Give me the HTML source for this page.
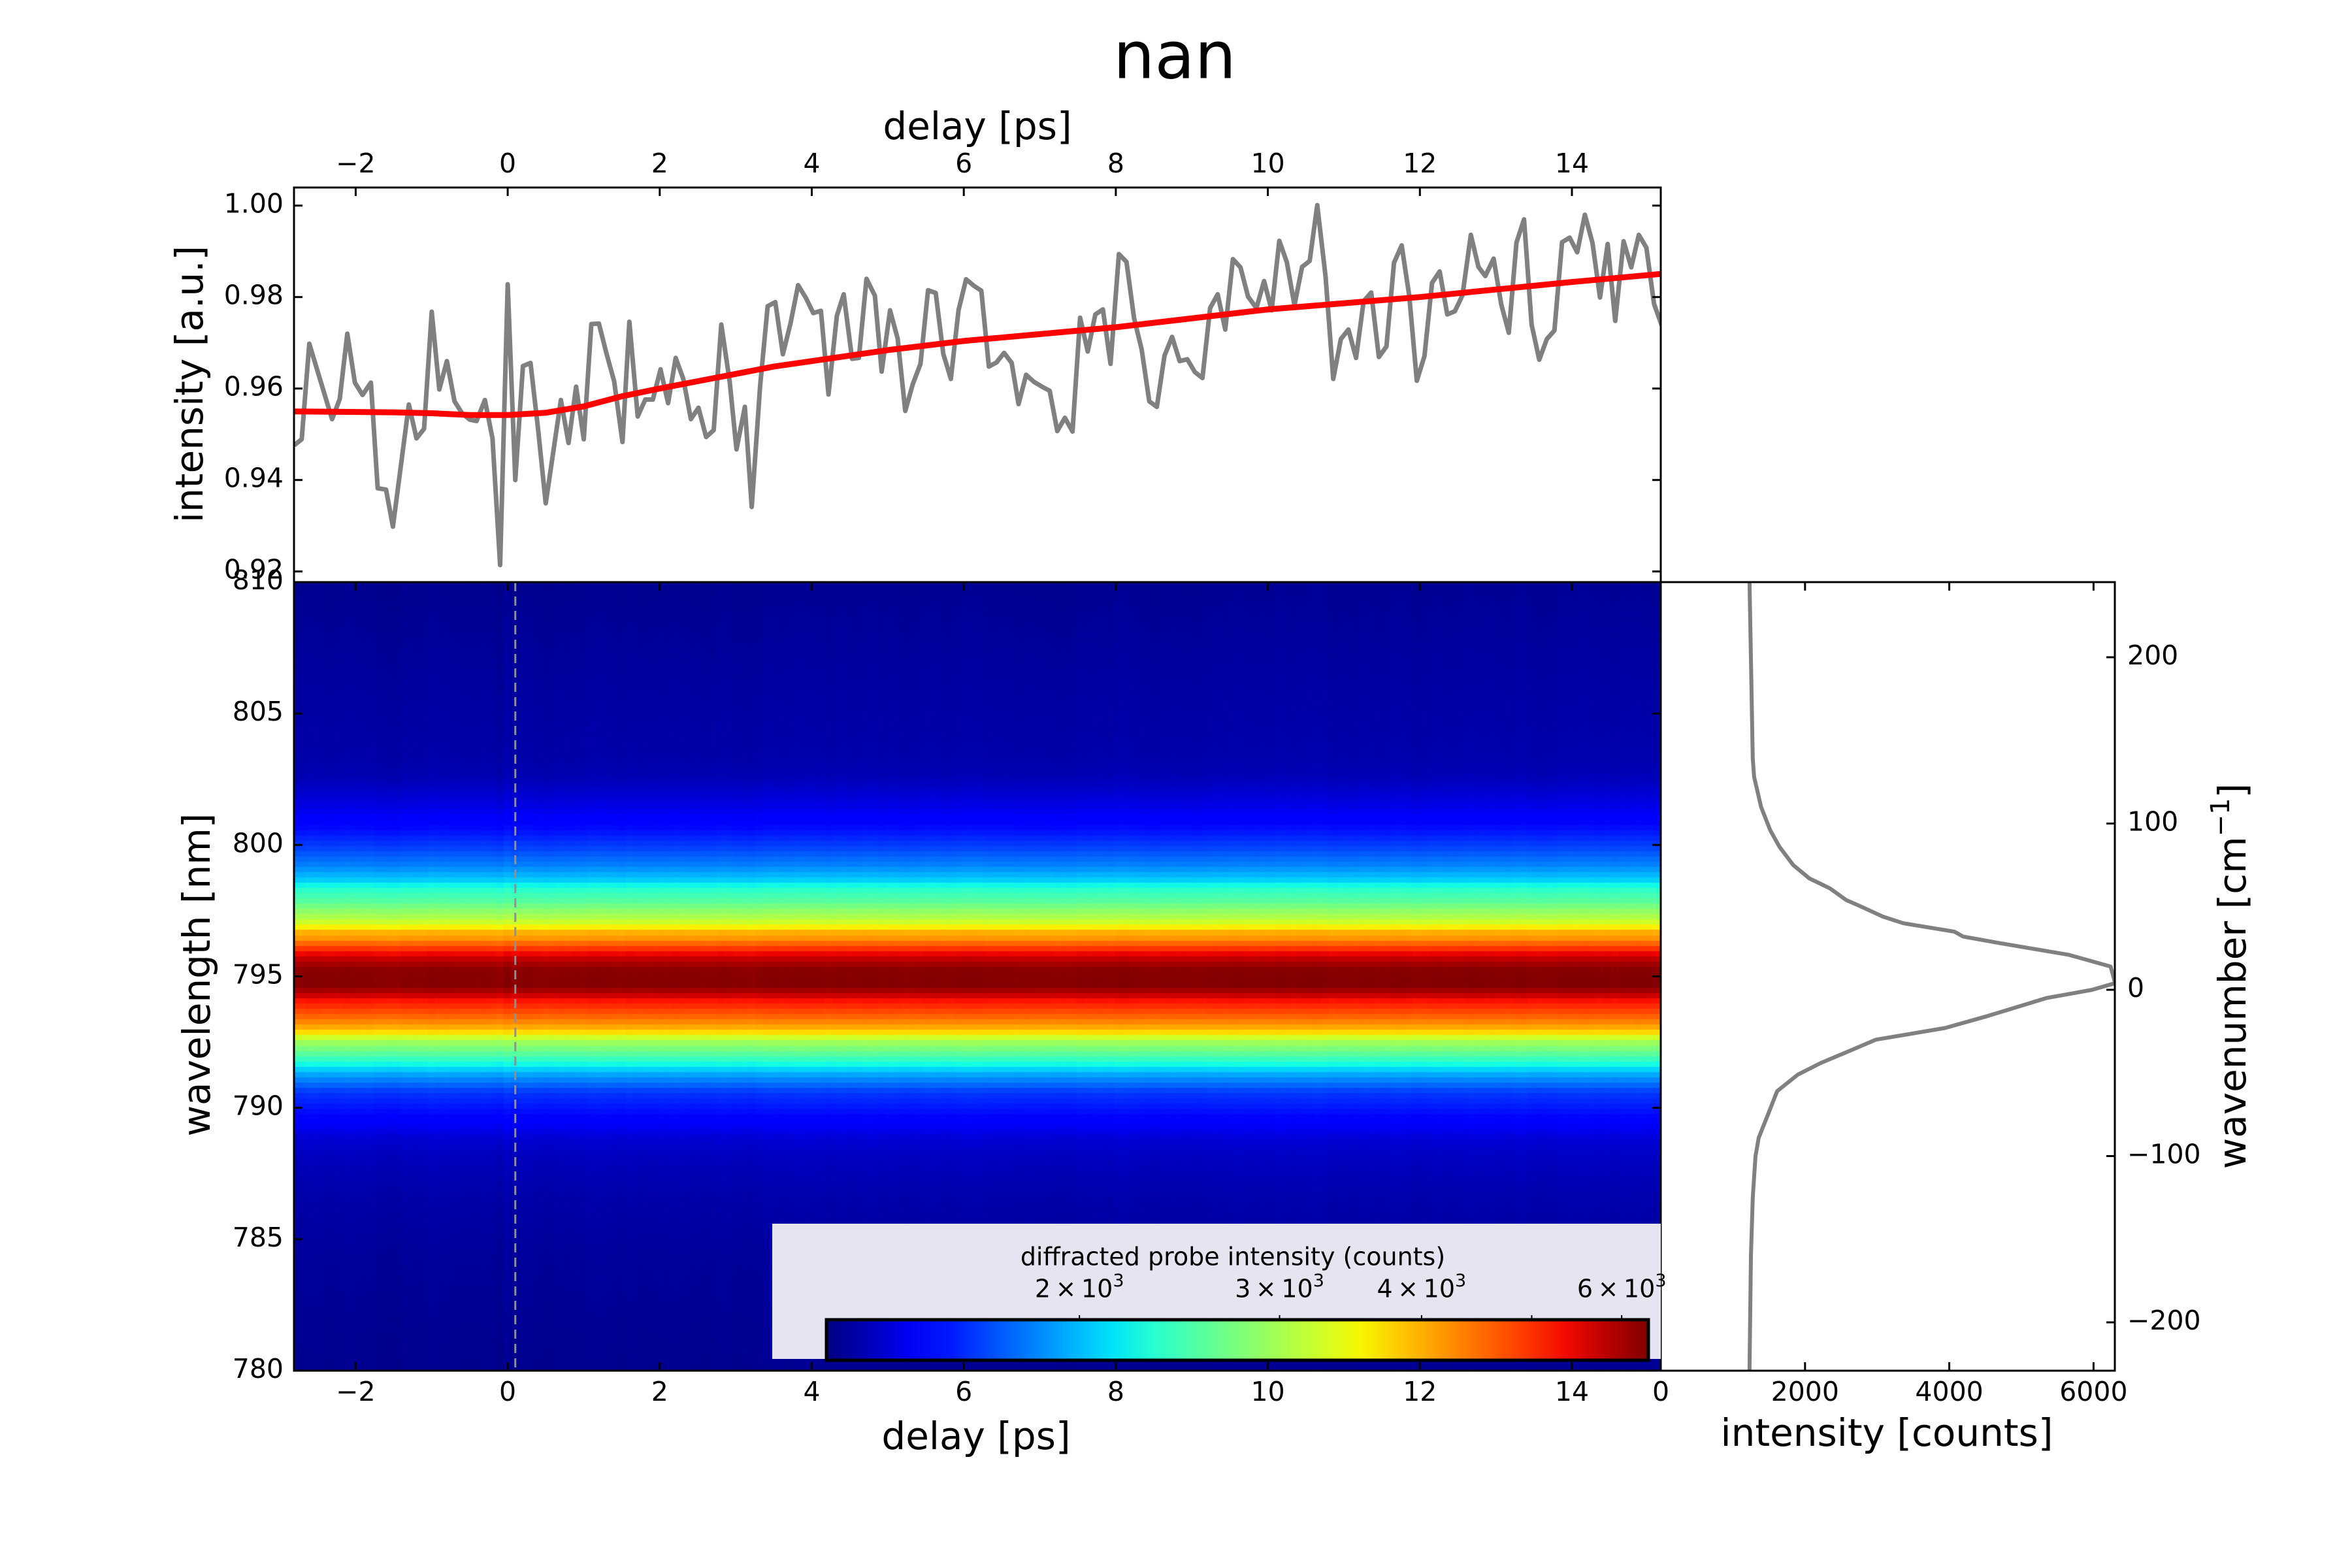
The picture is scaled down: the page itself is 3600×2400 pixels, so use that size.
<!DOCTYPE html>
<html><head><meta charset="utf-8">
<style>
html,body{margin:0;padding:0;background:#fff;}
#wrap{position:relative;width:3600px;height:2400px;overflow:hidden;}
#heat{position:absolute;left:450px;top:891px;}
svg{position:absolute;left:0;top:0;}
text{font-family:"DejaVu Sans","Liberation Sans",sans-serif;fill:#000;}
</style></head>
<body>
<div id="wrap">
<canvas id="heat" width="2092" height="1207"></canvas>
<svg id="svg" width="3600" height="2400" xmlns="http://www.w3.org/2000/svg">
<defs><linearGradient id="jetGrad" x1="0" x2="1" y1="0" y2="0"></linearGradient></defs>
<text x="1798" y="92" font-size="100" text-anchor="middle" dominant-baseline="middle">nan</text>
<text x="1496" y="197" font-size="58" text-anchor="middle" dominant-baseline="middle">delay [ps]</text>
<text transform="translate(294,588) rotate(-90)" font-size="58" text-anchor="middle" dominant-baseline="middle">intensity [a.u.]</text>
<text transform="translate(305,1492) rotate(-90)" font-size="58" text-anchor="middle" dominant-baseline="middle">wavelength [nm]</text>
<text x="1494" y="2202" font-size="58" text-anchor="middle" dominant-baseline="middle">delay [ps]</text>
<text x="2888" y="2197" font-size="58" text-anchor="middle" dominant-baseline="middle">intensity [counts]</text>
<text transform="translate(3421,1494) rotate(-90)" font-size="58" text-anchor="middle" dominant-baseline="middle">wavenumber [cm<tspan dy="-20" font-size="40">−1</tspan><tspan dy="20">]</tspan></text>
<g id="gTop"></g>
<g id="gMain"></g>
<g id="gRight"></g>
<g id="gCbar"></g>
</svg>
</div>
<script>
// ---- data ----
const tData=[-2.81,-2.71,-2.61,-2.31,-2.21,-2.11,-2.01,-1.91,-1.80,-1.71,-1.60,-1.51,-1.30,-1.20,-1.10,-1.00,-0.90,-0.80,-0.70,-0.60,-0.50,-0.41,-0.30,-0.20,-0.10,0.00,0.10,0.20,0.30,0.40,0.50,0.60,0.70,0.80,0.90,1.00,1.10,1.20,1.30,1.40,1.51,1.60,1.71,1.81,1.91,2.01,2.11,2.21,2.31,2.41,2.51,2.61,2.71,2.81,2.92,3.01,3.12,3.21,3.32,3.42,3.52,3.62,3.72,3.82,3.92,4.02,4.12,4.22,4.33,4.42,4.53,4.62,4.72,4.83,4.92,5.03,5.13,5.23,5.33,5.43,5.53,5.63,5.73,5.83,5.93,6.03,6.13,6.23,6.33,6.43,6.53,6.63,6.72,6.82,6.92,7.03,7.13,7.23,7.33,7.43,7.53,7.63,7.73,7.83,7.93,8.04,8.14,8.24,8.34,8.44,8.54,8.64,8.74,8.84,8.94,9.04,9.14,9.24,9.34,9.44,9.54,9.64,9.74,9.85,9.95,10.05,10.15,10.25,10.35,10.45,10.55,10.65,10.76,10.86,10.96,11.06,11.16,11.26,11.36,11.46,11.56,11.66,11.76,11.86,11.96,12.06,12.16,12.26,12.36,12.46,12.56,12.67,12.77,12.86,12.97,13.07,13.17,13.27,13.37,13.47,13.57,13.67,13.77,13.87,13.97,14.07,14.17,14.27,14.37,14.47,14.57,14.68,14.78,14.88,14.98,15.08,15.19];
const vData=[0.9476,0.9489,0.9698,0.9533,0.9577,0.9720,0.9613,0.9586,0.9613,0.9382,0.9379,0.9298,0.9565,0.9491,0.9512,0.9768,0.9598,0.9660,0.9572,0.9546,0.9532,0.9529,0.9575,0.9491,0.9214,0.9828,0.9400,0.9649,0.9656,0.9511,0.9349,0.9462,0.9575,0.9481,0.9604,0.9489,0.9741,0.9742,0.9676,0.9616,0.9483,0.9746,0.9539,0.9576,0.9576,0.9642,0.9568,0.9667,0.9621,0.9533,0.9558,0.9494,0.9509,0.9740,0.9616,0.9467,0.9560,0.9341,0.9605,0.9780,0.9789,0.9675,0.9742,0.9826,0.9799,0.9765,0.9770,0.9587,0.9759,0.9806,0.9665,0.9667,0.9840,0.9803,0.9637,0.9771,0.9709,0.9551,0.9610,0.9654,0.9815,0.9809,0.9676,0.9621,0.9771,0.9839,0.9825,0.9814,0.9648,0.9657,0.9678,0.9656,0.9566,0.9630,0.9615,0.9604,0.9595,0.9507,0.9536,0.9506,0.9755,0.9681,0.9762,0.9773,0.9654,0.9894,0.9877,0.9754,0.9685,0.9572,0.9560,0.9672,0.9713,0.9660,0.9664,0.9636,0.9623,0.9776,0.9806,0.9729,0.9883,0.9865,0.9801,0.9776,0.9835,0.9771,0.9923,0.9876,0.9782,0.9866,0.9879,1.0001,0.9844,0.9621,0.9708,0.9729,0.9667,0.9791,0.9810,0.9669,0.9692,0.9875,0.9913,0.9803,0.9617,0.9671,0.9831,0.9856,0.9762,0.9769,0.9804,0.9936,0.9866,0.9846,0.9884,0.9784,0.9722,0.9919,0.9970,0.9740,0.9663,0.9708,0.9727,0.9920,0.9930,0.9898,0.9980,0.9919,0.9799,0.9916,0.9748,0.9922,0.9865,0.9936,0.9908,0.9785,0.9734];
const fitT=[-2.81,-1.5,-1,-0.5,0,0.5,1,1.5,2,2.5,3,3.5,4,5,6,8,10,12,14,15.2];
const fitV=[0.9550,0.9548,0.9546,0.9542,0.9542,0.9547,0.9561,0.9583,0.9600,0.9616,0.9632,0.9648,0.9660,0.9684,0.9704,0.9734,0.9773,0.9800,0.9833,0.9851];
const specWn=[246,139,128,110,96,86,75,67,61,54,51,44,40,35,32,28,21,14,9,4,0,-5,-16,-23,-30,-37,-44,-51,-61,-75,-89,-100,-125,-160,-230];
const specCounts=[1230,1275,1294,1390,1517,1645,1836,2060,2346,2570,2729,3080,3366,4068,4195,4706,5662,6236,6268,6300,5981,5343,4514,3940,2984,2601,2219,1900,1613,1486,1358,1313,1275,1250,1230];
const topXTicks=[-2,0,2,4,6,8,10,12,14];
const topYTicks=[1.00,0.98,0.96,0.94,0.92];
const wlTicks=[810,805,800,795,790,785,780];
const countTicks=[0,2000,4000,6000];
const wnTicks=[200,100,0,-100,-200];
const cbarTicks=[2000,3000,4000,5000,6000];
const cbarLabels=["2","3","4","","6"];
const zeroDelay=0.1;
const cmin=1198, cmax=6333;

// ---- axis functions ----
const xT=t=>777.1+116.35*t;
const yV=v=>314.7+(1-v)*7000;
const yL=l=>891+(810-l)*40.23;
const xC=c=>2542+c*0.1104;
const yW=w=>1515-w*2.545;
const xLog=c=>1265+(Math.log10(c)-Math.log10(cmin))/(Math.log10(cmax)-Math.log10(cmin))*1258;

const NS="http://www.w3.org/2000/svg";
function mk(tag,attrs,parent){const e=document.createElementNS(NS,tag);for(const k in attrs)e.setAttribute(k,attrs[k]);parent.appendChild(e);return e;}
function fmt(n){return (n<0?"−":"")+Math.abs(n);}
function jet(x){
  function seg(pts){for(let i=0;i<pts.length-1;i++){const a=pts[i],b=pts[i+1];if(x<=b[0]){return a[1]+(b[1]-a[1])*(x-a[0])/(b[0]-a[0]);}}return pts[pts.length-1][1];}
  x=Math.max(0,Math.min(1,x));
  const r=seg([[0,0],[0.35,0],[0.66,1],[0.89,1],[1,0.5]]);
  const g=seg([[0,0],[0.125,0],[0.375,1],[0.64,1],[0.91,0],[1,0]]);
  const b=seg([[0,0.5],[0.11,1],[0.34,1],[0.65,0],[1,0]]);
  return [Math.round(r*255),Math.round(g*255),Math.round(b*255)];
}
function spec(w){
  if(w>=specWn[0])return specCounts[0];
  for(let i=0;i<specWn.length-1;i++){if(w<=specWn[i]&&w>=specWn[i+1]){const f=(specWn[i]-w)/(specWn[i]-specWn[i+1]);return specCounts[i]+(specCounts[i+1]-specCounts[i])*f;}}
  return specCounts[specCounts.length-1];
}

// ---- heatmap ----
(function(){
  const cv=document.getElementById('heat');const ctx=cv.getContext('2d');
  const vmean=vData.reduce((a,b)=>a+b,0)/vData.length;
  for(let i=0;i<tData.length;i++){
    const x0=i===0?450:(xT(tData[i-1])+xT(tData[i]))/2;
    const x1=i===tData.length-1?2542:(xT(tData[i])+xT(tData[i+1]))/2;
    const fac=1+(vData[i]/vmean-1)*0.25;
    for(let l=780;l<810;l+=0.2){
      const lc=l+0.1;
      const w=12587.2-1e7/lc;
      const c=spec(w)*fac;
      const f=(Math.log10(c)-Math.log10(cmin))/(Math.log10(cmax)-Math.log10(cmin));
      const col=jet(f);
      ctx.fillStyle=`rgb(${col[0]},${col[1]},${col[2]})`;
      const ya=yL(l+0.2)-891, yb=yL(l)-891;
      ctx.fillRect(Math.floor(x0-450),Math.floor(ya),Math.ceil(x1-x0)+1,Math.ceil(yb-ya)+1);
    }
  }
})();

// ---- top panel ----
(function(){
  const g=document.getElementById('gTop');
  let d="";tData.forEach((t,i)=>{d+=(i?"L":"M")+xT(t).toFixed(1)+","+yV(vData[i]).toFixed(1);});
  const cp=mk('clipPath',{id:'clipTop'},g);mk('rect',{x:450,y:287,width:2092,height:604},cp);
  const ln=mk('path',{d:d,fill:'none',stroke:'#808080','stroke-width':7,'stroke-linejoin':'round','clip-path':'url(#clipTop)'},g);
  
  
  let d2="";fitT.forEach((t,i)=>{d2+=(i?"L":"M")+xT(t).toFixed(1)+","+yV(fitV[i]).toFixed(1);});
  const fl=mk('path',{d:d2,fill:'none',stroke:'#ff0000','stroke-width':9,'stroke-linejoin':'round','clip-path':'url(#clipTop)'},g);
  
  
  mk('rect',{x:450,y:287,width:2092,height:604,fill:'none',stroke:'#000','stroke-width':3},g);
  topXTicks.forEach(t=>{const x=xT(t);
    mk('line',{x1:x,y1:287,x2:x,y2:300,stroke:'#000','stroke-width':3},g);
    const tx=mk('text',{x:x,y:253,'font-size':41,'text-anchor':'middle','dominant-baseline':'middle'},g);tx.textContent=fmt(t);
    
    
  });
  topYTicks.forEach(v=>{const y=yV(v);
    mk('line',{x1:450,y1:y,x2:463,y2:y,stroke:'#000','stroke-width':3},g);
    mk('line',{x1:2529,y1:y,x2:2542,y2:y,stroke:'#000','stroke-width':3},g);
    const tx=mk('text',{x:434,y:y,'font-size':41,'text-anchor':'end','dominant-baseline':'middle'},g);tx.textContent=v.toFixed(2);
    
    
  });
})();

// ---- main panel ----
(function(){
  const g=document.getElementById('gMain');
  const dl=mk('line',{x1:xT(zeroDelay),y1:891,x2:xT(zeroDelay),y2:2098,stroke:'#909090','stroke-width':3,'stroke-dasharray':'14,8'},g);
  
  
  wlTicks.forEach(l=>{const y=yL(l);
    mk('line',{x1:450,y1:y,x2:463,y2:y,stroke:'#000','stroke-width':3},g);
    mk('line',{x1:2529,y1:y,x2:2542,y2:y,stroke:'#000','stroke-width':3},g);
    const tx=mk('text',{x:434,y:y,'font-size':41,'text-anchor':'end','dominant-baseline':'middle'},g);tx.textContent=l;
    
    
  });
  topXTicks.forEach(t=>{const x=xT(t);
    mk('line',{x1:x,y1:2085,x2:x,y2:2098,stroke:'#000','stroke-width':3},g);
    mk('line',{x1:x,y1:891,x2:x,y2:904,stroke:'#000','stroke-width':3},g);
    const tx=mk('text',{x:x,y:2133,'font-size':41,'text-anchor':'middle','dominant-baseline':'middle'},g);tx.textContent=fmt(t);
    
    
  });
})();

// ---- colorbar inset ----
(function(){
  const g=document.getElementById('gCbar');
  const grad=document.getElementById('jetGrad');
  for(let i=0;i<=20;i++){const c=jet(i/20);mk('stop',{offset:(i*5)+'%','stop-color':`rgb(${c[0]},${c[1]},${c[2]})`},grad);}
  mk('rect',{x:1182,y:1873,width:1360,height:207,fill:'#e5e5f2'},g);
  const cb=mk('rect',{x:1265,y:2020,width:1258,height:62,fill:'url(#jetGrad)',stroke:'#000','stroke-width':5},g);
  
  
  const tt=mk('text',{x:1887,y:1926,'font-size':38,'text-anchor':'middle','dominant-baseline':'middle'},g);tt.textContent="diffracted probe intensity (counts)";
  
  
  cbarTicks.forEach((c,i)=>{const x=xLog(c);
    mk('line',{x1:x,y1:2013,x2:x,y2:2020,stroke:'#000','stroke-width':2},g);
    if(cbarLabels[i]){
      const tx=mk('text',{x:x,y:1975,'font-size':38,'text-anchor':'middle','dominant-baseline':'middle'},g);
      
      
      tx.appendChild(document.createTextNode(cbarLabels[i]+"\u2009×\u200910"));
      const sp=document.createElementNS(NS,'tspan');sp.setAttribute('dy','-14');sp.setAttribute('font-size','27');sp.textContent="3";tx.appendChild(sp);
    }
  });
  mk('rect',{x:450,y:891,width:2092,height:1207,fill:'none',stroke:'#000','stroke-width':3},document.getElementById('gMain'));
})();

// ---- right panel ----
(function(){
  const g=document.getElementById('gRight');
  let d="";specWn.forEach((w,i)=>{d+=(i?"L":"M")+xC(specCounts[i]).toFixed(1)+","+yW(w).toFixed(1);});
  const cp=mk('clipPath',{id:'clipRight'},g);mk('rect',{x:2542,y:891,width:695,height:1207},cp);
  const ln=mk('path',{d:d,fill:'none',stroke:'#808080','stroke-width':6,'stroke-linejoin':'round','clip-path':'url(#clipRight)'},g);
  
  
  mk('rect',{x:2542,y:891,width:695,height:1207,fill:'none',stroke:'#000','stroke-width':3},g);
  countTicks.forEach(c=>{const x=xC(c);
    mk('line',{x1:x,y1:2085,x2:x,y2:2098,stroke:'#000','stroke-width':3},g);
    mk('line',{x1:x,y1:891,x2:x,y2:904,stroke:'#000','stroke-width':3},g);
    const tx=mk('text',{x:x,y:2133,'font-size':41,'text-anchor':'middle','dominant-baseline':'middle'},g);tx.textContent=c;
    
    
  });
  wnTicks.forEach(w=>{const y=yW(w);
    mk('line',{x1:3224,y1:y,x2:3237,y2:y,stroke:'#000','stroke-width':3},g);
    const tx=mk('text',{x:3256,y:y,'font-size':41,'text-anchor':'start','dominant-baseline':'middle'},g);tx.textContent=fmt(w);
    
    
  });
})();
</script>
</body></html>
